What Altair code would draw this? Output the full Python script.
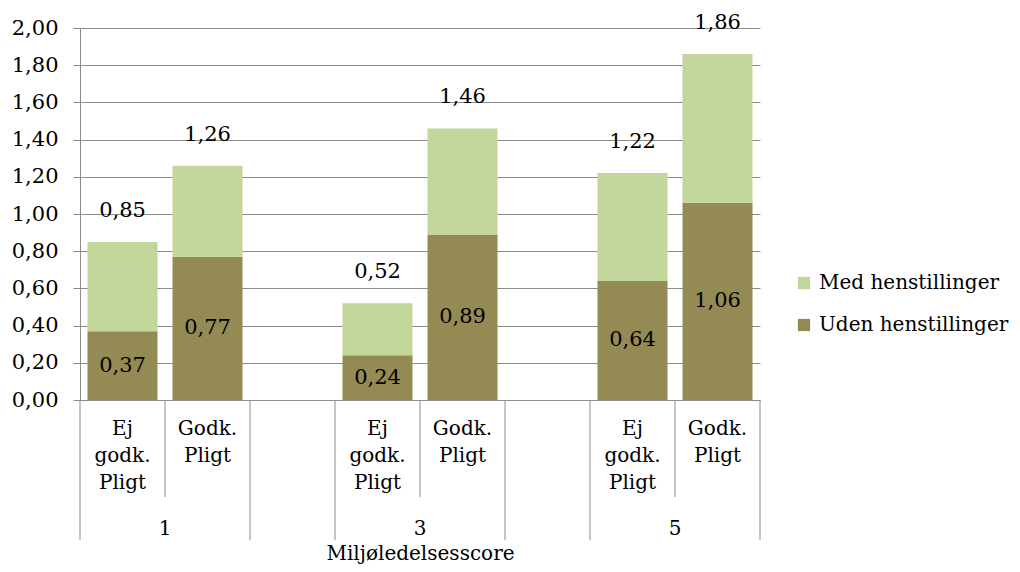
import altair as alt
import pandas as pd

# ---- data ----
slots = ["1a", "1b", "2", "3a", "3b", "4", "5a", "5b"]
slot_text = ["Ej|godk.|Pligt", "Godk.|Pligt", "", "Ej|godk.|Pligt", "Godk.|Pligt", "",
             "Ej|godk.|Pligt", "Godk.|Pligt"]
bar_slots = ["1a", "1b", "3a", "3b", "5a", "5b"]
uden_values = [0.37, 0.77, 0.24, 0.89, 0.64, 1.06]
total_values = [0.85, 1.26, 0.52, 1.46, 1.22, 1.86]
series = ["Med henstillinger", "Uden henstillinger"]
group_labels = ["1", "3", "5"]
group_label_slots = ["1a", "3a", "5a"]
long_left_slots = ["1a", "2", "3a", "4", "5a"]
short_left_slots = ["1b", "3b", "5b"]
right_edge_slots = ["5b"]
y_ticks = [0.0, 0.2, 0.4, 0.6, 0.8, 1.0, 1.2, 1.4, 1.6, 1.8, 2.0]

FONT = "DejaVu Serif"
DARK = "#948A54"
LIGHT = "#C3D69B"
GRID = "#8C8C8C"

rows = []
for s, u, t in zip(bar_slots, uden_values, total_values):
    rows.append({"slot": s, "series": series[1], "value": u, "ord": 0})
    rows.append({"slot": s, "series": series[0], "value": round(t - u, 2), "ord": 1})
bars_df = pd.DataFrame(rows)

labels_df = pd.DataFrame({
    "slot": bar_slots,
    "uden": uden_values,
    "total": total_values,
})
labels_df["mid"] = labels_df["uden"] / 2
labels_df["uden_txt"] = [f"{v:.2f}".replace(".", ",") for v in uden_values]
labels_df["total_txt"] = [f"{v:.2f}".replace(".", ",") for v in total_values]

groups_df = pd.DataFrame({"slot": group_label_slots, "label": group_labels})
long_df = pd.DataFrame({"slot": long_left_slots})
short_df = pd.DataFrame({"slot": short_left_slots})
right_df = pd.DataFrame({"slot": right_edge_slots})

# label expression for the multi-line category labels
expr = "''"
for s, t in reversed(list(zip(slots, slot_text))):
    expr = f"datum.value == '{s}' ? split('{t}', '|') : ({expr})"

x_scale = alt.Scale(domain=slots, paddingInner=15 / 85, paddingOuter=7.5 / 85)
x_axis = alt.Axis(
    title="Miljøledelsesscore", labelExpr=expr, labelAngle=0, ticks=False,
    domainColor=GRID, labelFont=FONT, labelFontSize=20, labelColor="black",
    labelBaseline="top", labelLineHeight=27, labelPadding=18, labelAlign="center",
    titleFont=FONT, titleFontSize=20, titleFontWeight="normal", titleColor="black",
    titleX=340, titleY=159, titleBaseline="alphabetic", titleAlign="center",
)


def make_x(bp=None):
    if bp is None:
        return alt.X("slot:N", scale=x_scale, axis=x_axis)
    return alt.X("slot:N", scale=x_scale, axis=x_axis, bandPosition=bp)


y_scale = alt.Scale(domain=[0, 2], nice=False)
y_axis = alt.Axis(
    title=None, values=y_ticks,
    labelExpr="replace(format(datum.value, '.2f'), '.', ',')",
    domainColor=GRID, tickColor=GRID, tickSize=7, gridColor=GRID, gridOpacity=1,
    labelFont=FONT, labelFontSize=21, labelColor="black", labelPadding=15,
)


def make_y(field):
    return alt.Y(field, scale=y_scale, axis=y_axis, title=None)


bars = alt.Chart(bars_df).mark_bar().encode(
    x=make_x(),
    y=make_y("value:Q"),
    color=alt.Color("series:N", scale=alt.Scale(domain=series, range=[LIGHT, DARK]),
                    legend=alt.Legend(
                        title=None, orient="none", legendX=714, legendY=245,
                        symbolType="square", symbolSize=150, symbolStrokeWidth=0,
                        labelFont=FONT, labelFontSize=20, labelColor="black",
                        rowPadding=22, labelOffset=5, labelLimit=0)),
    order=alt.Order("ord:Q"),
)

uden_text = alt.Chart(labels_df).mark_text(
    font=FONT, fontSize=21, color="black", baseline="middle"
).encode(x=make_x(), y=make_y("mid:Q"), text="uden_txt:N")

total_text = alt.Chart(labels_df).mark_text(
    font=FONT, fontSize=21, color="black", baseline="middle", dy=-31
).encode(x=make_x(), y=make_y("total:Q"), text="total_txt:N")

long_rules = alt.Chart(long_df).mark_rule(color=GRID, xOffset=-7.5).encode(
    x=make_x(0), y=alt.value(372), y2=alt.value(512))
right_rules = alt.Chart(right_df).mark_rule(color=GRID, xOffset=7.5).encode(
    x=make_x(1), y=alt.value(372), y2=alt.value(512))
short_rules = alt.Chart(short_df).mark_rule(color=GRID, xOffset=-7.5).encode(
    x=make_x(0), y=alt.value(372), y2=alt.value(469))

group_text = alt.Chart(groups_df).mark_text(
    font=FONT, fontSize=20, color="black", baseline="middle", xOffset=7.5
).encode(x=make_x(1), y=alt.value(501), text="label:N")

chart = alt.layer(
    bars, uden_text, total_text, long_rules, right_rules, short_rules, group_text
).properties(
    width=680, height=372,
    autosize=alt.AutoSizeParams(type="none"),
    padding={"left": 72, "top": 20, "right": 252, "bottom": 164},
).configure_view(stroke=None)

chart.save("out.html", embed_options={"renderer": "svg", "actions": False})
